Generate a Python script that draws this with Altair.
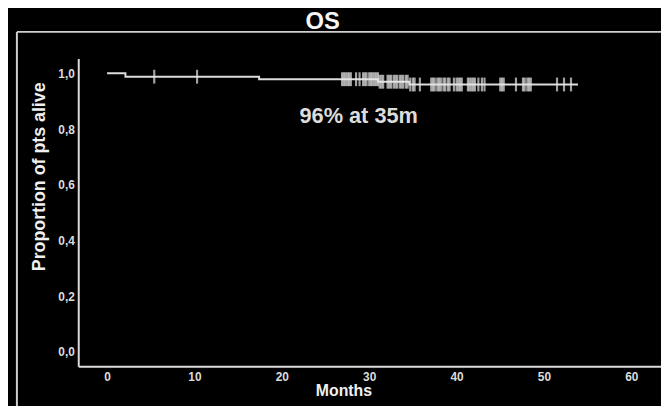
import altair as alt
import pandas as pd

# Kaplan-Meier steps (months, proportion alive)
step_times = [0.0, 2.1, 17.4, 31.0, 34.6, 53.9]
step_surv = [1.0, 0.988, 0.979, 0.970, 0.960, 0.960]

# censoring marks (months)
censor_times = [
    5.4, 10.3,
    26.9, 27.1, 27.3, 27.5, 27.7, 27.9,
    28.5, 28.9,
    29.3, 29.5, 29.7,
    30.0, 30.2, 30.4, 30.6, 30.8, 31.0,
    31.2, 31.4, 31.6,
    32.1, 32.3, 32.5,
    32.8, 33.0, 33.2,
    33.5, 33.7, 33.9,
    34.2, 34.4, 34.7,
    35.0, 35.2,
    35.8,
    37.1, 37.3, 37.5,
    37.8, 38.0, 38.2,
    38.5, 38.7,
    39.0, 39.2,
    39.7,
    40.0, 40.2, 40.4, 40.6,
    41.3, 41.5, 41.7, 41.9, 42.1,
    42.5, 42.9, 43.2,
    45.0, 45.2, 45.4,
    46.8,
    47.6, 47.8,
    48.1, 48.3, 48.5,
    51.5, 52.3, 53.1,
]

x_ticks = [0, 10, 20, 30, 40, 50, 60]
y_ticks = [0.0, 0.2, 0.4, 0.6, 0.8, 1.0]

title_text = "OS"
annotation_text = "96% at 35m"
annotation_x = 28.8
annotation_y = 0.845


def surv_at(t):
    s = step_surv[0]
    for tt, ss in zip(step_times, step_surv):
        if tt < t:
            s = ss
    return s


steps = pd.DataFrame({"t": step_times, "s": step_surv})
cens = pd.DataFrame({"t": censor_times, "s": [surv_at(t) for t in censor_times]})
ann = pd.DataFrame({"t": [annotation_x], "s": [annotation_y], "label": [annotation_text]})
ttl = pd.DataFrame({"label": [title_text]})

FG = "#dcdcdc"
FONT = "Liberation Sans, Arial, sans-serif"

xscale = alt.Scale(domain=[-3.3, 63.4], nice=False, zero=False)
yscale = alt.Scale(domain=[-0.0515, 1.053], nice=False, zero=False)

xaxis = alt.Axis(
    values=x_ticks, title="Months", ticks=False, grid=False,
    domainColor=FG, domainWidth=2, labelColor=FG, labelFont=FONT,
    labelFontSize=12, labelFontWeight="bold", labelPadding=5,
    titleColor="#f0f0f0", titleFont=FONT, titleFontSize=16,
    titleFontWeight="bold", titleX=268, titleY=25, titleBaseline="middle",
    titleAnchor="start", titleAlign="center",
)
yaxis = alt.Axis(
    values=y_ticks, title="Proportion of pts alive", ticks=False, grid=False,
    domainColor=FG, domainWidth=2, labelColor=FG, labelFont=FONT,
    labelFontSize=12, labelFontWeight="bold", labelPadding=4,
    labelExpr="replace(format(datum.value, '.1f'), '.', ',')",
    titleColor="#f0f0f0", titleFont=FONT, titleFontSize=18,
    titleFontWeight="bold", titleX=-39, titleY=119, titleBaseline="middle",
    titleAngle=270, titleAlign="center",
)

line = alt.Chart(steps).mark_line(
    interpolate="step-after", color=FG, strokeWidth=2
).encode(
    x=alt.X("t:Q", scale=xscale, axis=xaxis),
    y=alt.Y("s:Q", scale=yscale, axis=yaxis),
)

ticks = alt.Chart(cens).mark_tick(
    orient="vertical", size=14, thickness=2.2, color="#e6e6e6"
).encode(x=alt.X("t:Q", scale=xscale), y=alt.Y("s:Q", scale=yscale))

text = alt.Chart(ann).mark_text(
    font=FONT, fontSize=22, fontWeight="bold", color=FG, align="center", baseline="middle"
).encode(x=alt.X("t:Q", scale=xscale), y=alt.Y("s:Q", scale=yscale), text="label:N")

# chart title placed above the frame
title = alt.Chart(ttl).mark_text(
    font=FONT, fontSize=24, fontWeight="bold", color="#f5f5f5", align="center", baseline="middle"
).encode(x=alt.value(247), y=alt.value(-37), text="label:N")

# outer frame decoration
frame_top = alt.Chart(ttl).mark_rule(color="#cfcfcf", strokeWidth=2).encode(
    x=alt.value(-62), x2=alt.value(700), y=alt.value(-27)
)
frame_left = alt.Chart(ttl).mark_rule(color="#cfcfcf", strokeWidth=2).encode(
    x=alt.value(-62), y=alt.value(-27), y2=alt.value(400)
)

chart = alt.layer(frame_top, frame_left, line, ticks, text, title).properties(
    width=589,
    height=311,
    autosize=alt.AutoSizeParams(type="none"),
    padding={"left": 71, "top": 49, "right": 0, "bottom": 38},
    background="#000000",
).configure_view(stroke=None)

chart.save("out.html", embed_options={"renderer": "svg", "actions": False})
